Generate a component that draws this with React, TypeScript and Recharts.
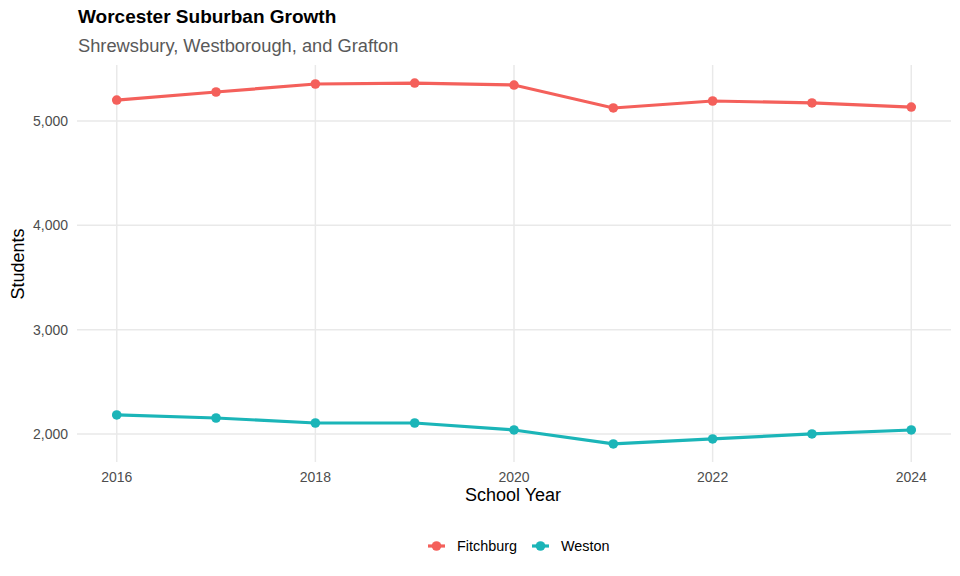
import React from 'react';
import { LineChart, Line, XAxis, YAxis, CartesianGrid } from 'recharts';

// School year enrolment
const years = [2016, 2017, 2018, 2019, 2020, 2021, 2022, 2023, 2024];
const fitchburg = [5201, 5278, 5355, 5364, 5345, 5125, 5192, 5173, 5134];
const weston = [2182, 2153, 2105, 2105, 2038, 1904, 1952, 2000, 2038];

const xTicks = [2016, 2018, 2020, 2022, 2024];
const yTicks = [2000, 3000, 4000, 5000];

const series = [
  { key: 'fitchburg', name: 'Fitchburg', color: '#F4605B' },
  { key: 'weston', name: 'Weston', color: '#1BB5B8' },
];

const data = years.map((year, i) => ({
  year,
  fitchburg: fitchburg[i],
  weston: weston[i],
}));

const font = '"Liberation Sans", Arial, Helvetica, sans-serif';

export default function App() {
  return (
    <div style={{ position: 'fixed', left: 0, top: 0, width: 960, height: 576, background: '#fff', fontFamily: font }}>
      <div style={{ position: 'absolute', left: 78, top: 6, fontSize: 19, fontWeight: 700, color: '#000' }}>
        Worcester Suburban Growth
      </div>
      <div style={{ position: 'absolute', left: 78, top: 35, fontSize: 18.3, color: '#595959' }}>
        Shrewsbury, Westborough, and Grafton
      </div>

      <LineChart
        width={960}
        height={576}
        data={data}
        margin={{ top: 65, right: 9, left: 0, bottom: 84 }}
        style={{ position: 'absolute', left: 0, top: 0 }}
      >
        <CartesianGrid stroke="#e9e9e9" strokeWidth={1.5} syncWithTicks />
        <XAxis
          dataKey="year"
          type="number"
          domain={[2015.6, 2024.4]}
          ticks={xTicks}
          height={30}
          tickSize={0}
          tickMargin={10}
          axisLine={false}
          tickLine={false}
          tick={{ fill: '#4d4d4d', fontSize: 14, fontFamily: font }}
        />
        <YAxis
          type="number"
          domain={[1731, 5537]}
          ticks={yTicks}
          width={77}
          tickSize={0}
          tickMargin={9}
          axisLine={false}
          tickLine={false}
          tickFormatter={(v: number) => v.toLocaleString('en-US')}
          tick={{ fill: '#4d4d4d', fontSize: 14, fontFamily: font }}
        />
        {series.map((s) => (
          <Line
            key={s.key}
            type="linear"
            dataKey={s.key}
            name={s.name}
            stroke={s.color}
            strokeWidth={3.2}
            dot={{ r: 4.8, fill: s.color, stroke: s.color, strokeWidth: 0 }}
            isAnimationActive={false}
          />
        ))}
      </LineChart>

      <div style={{ position: 'absolute', left: 313, width: 400, top: 485, textAlign: 'center', fontSize: 18, color: '#000' }}>
        School Year
      </div>
      <div
        style={{
          position: 'absolute',
          left: 18,
          top: 264,
          transform: 'translate(-50%, -50%) rotate(-90deg)',
          fontSize: 18,
          color: '#000',
          whiteSpace: 'nowrap',
        }}
      >
        Students
      </div>

      <div style={{ position: 'absolute', left: 427, top: 536, display: 'flex', fontSize: 14.4, color: '#000' }}>
        {series.map((s) => (
          <div key={s.key} style={{ display: 'flex', alignItems: 'center', marginRight: 14 }}>
            <svg width={19} height={20} style={{ marginRight: 11 }}>
              <line x1={1} y1={10} x2={18} y2={10} stroke={s.color} strokeWidth={3.2} />
              <circle cx={9.5} cy={10} r={4.8} fill={s.color} />
            </svg>
            <span>{s.name}</span>
          </div>
        ))}
      </div>
    </div>
  );
}
